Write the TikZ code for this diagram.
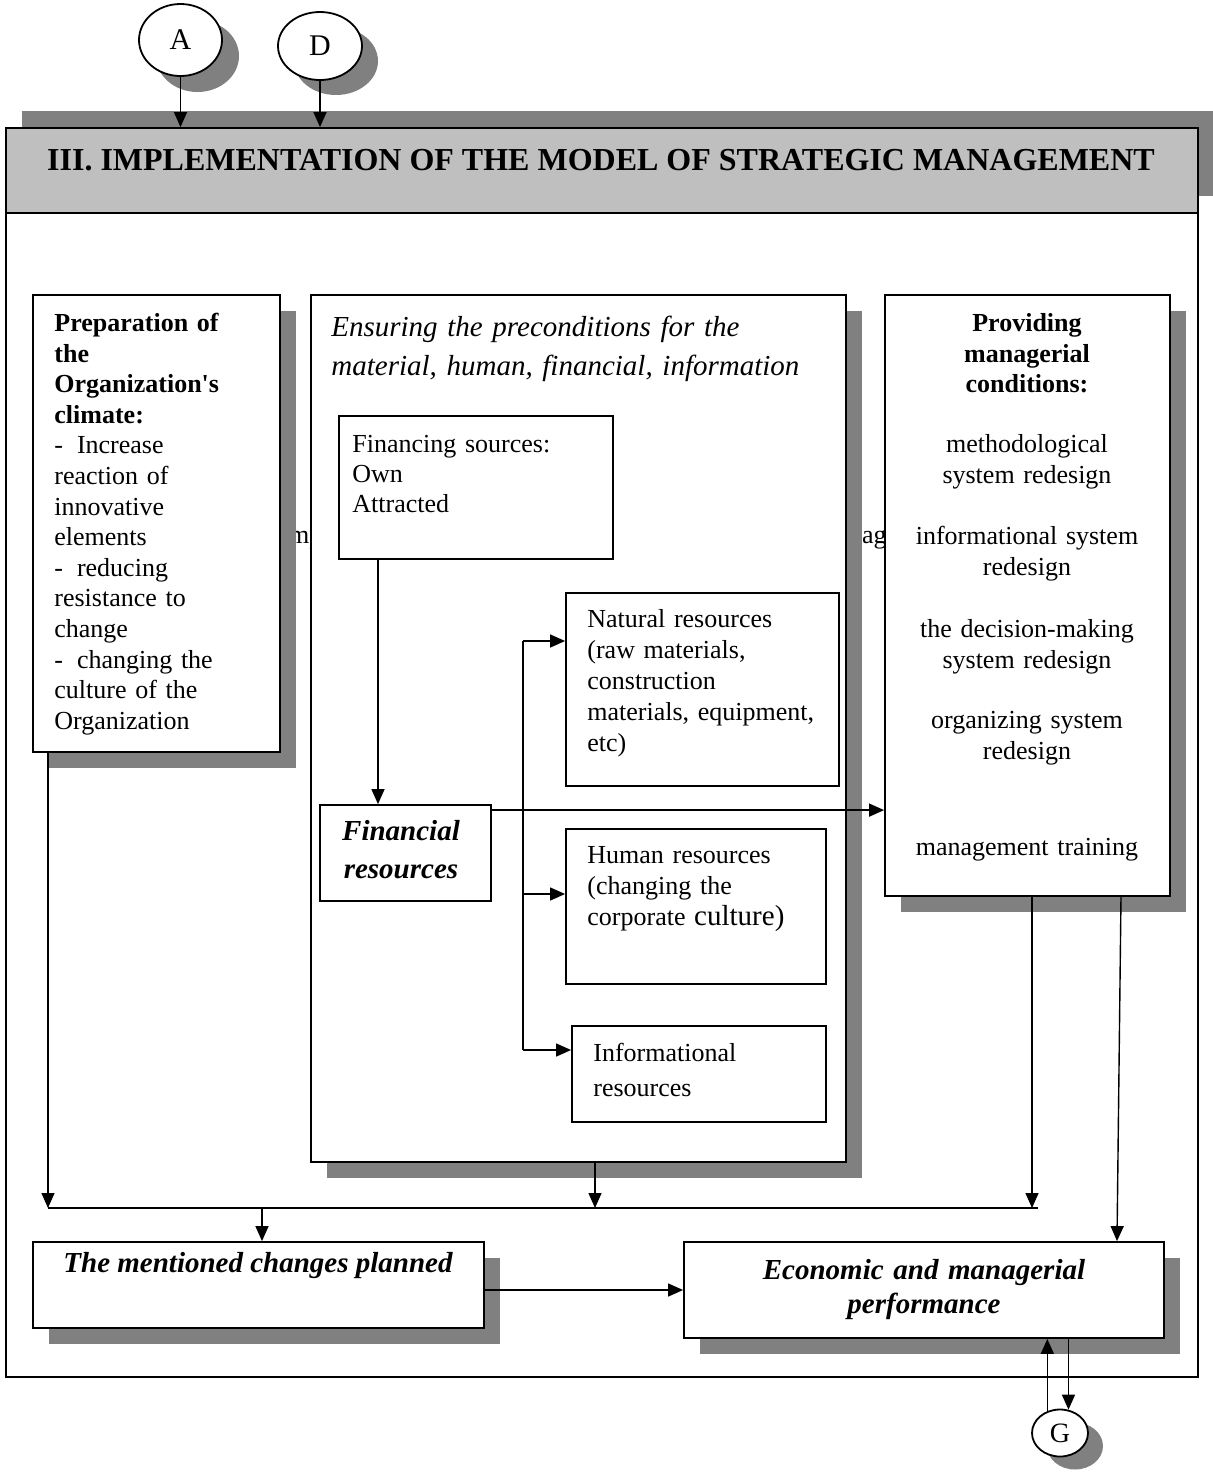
\documentclass[tikz,border=0pt]{standalone}
\usepackage{fontspec}
\setmainfont{Liberation Serif}
\usetikzlibrary{shapes.geometric,shadows,arrows.meta,fit}
\definecolor{shadowgray}{gray}{0.5}
\definecolor{headgray}{gray}{0.75}
% strut that fixes the height of the first line of a text block
\newcommand\firstln{\rule{0pt}{12pt}}

\tikzset{
  boxframe/.style={draw, line width=0.9pt, fill=white, inner sep=0pt},
  boxshadow/.style={drop shadow={shadow xshift=8pt, shadow yshift=-8pt, fill=shadowgray, opacity=1}},
  conn/.style={line width=0.7pt},
  arr/.style={conn, -{Triangle[length=7.5pt,width=6.5pt]}},
  txt/.style={inner sep=0pt, font=\fontsize{13}{15.3}\selectfont},
  blockl/.style={txt, anchor=north west, text width=300pt, align=left},
  blockc/.style={txt, anchor=north, text width=220pt, align=center},
  emph/.style={inner sep=0pt, font=\fontsize{14.5}{19}\selectfont\bfseries\itshape},
  letter/.style={ellipse, draw, line width=0.9pt, fill=white, inner sep=0pt}
}

\begin{document}
\begin{tikzpicture}[x=0.5pt, y=-0.5pt]
\useasboundingbox (0,0) rectangle (1212,1474);

% outer frame and title bar
\node[draw, line width=0.9pt, inner sep=0pt, fit={(6,128) (1198,1377)}] (frame) {};
\node[boxframe, fill=headgray,
      drop shadow={shadow xshift=8pt, shadow yshift=8.5pt, fill=shadowgray, opacity=1},
      fit={(6,128) (1198,213)}] (head) {};
\node[inner sep=0pt, anchor=base, font=\fontsize{16}{19}\selectfont\bfseries] (title) at (601,170)
  {III. IMPLEMENTATION OF THE MODEL OF STRATEGIC MANAGEMENT};

% parts of a line of text lying behind the three column boxes
\node[txt, anchor=base west] (behindL) at (280,543) {Imp};
\node[txt, anchor=base west] (behindR) at (817,543) {manag};

% entry points
\node[letter, minimum width=41.5pt, minimum height=36pt,
      drop shadow={shadow xshift=8.5pt, shadow yshift=-8pt, fill=shadowgray, opacity=1},
      font=\fontsize{15}{18}\selectfont] (A) at (180.5,40) {A};
\node[letter, minimum width=42pt, minimum height=34pt,
      drop shadow={shadow xshift=8pt, shadow yshift=-7.5pt, fill=shadowgray, opacity=1},
      font=\fontsize{15}{18}\selectfont] (D) at (320,46) {D};

% three columns
\node[boxframe, boxshadow, fit={(33,295) (280,752)}] (prep) {};
\node[boxframe, boxshadow, fit={(311,295) (846,1162)}] (mid) {};
\node[boxframe, boxshadow, fit={(885,295) (1170,896)}] (prov) {};

% boxes inside the middle column
\node[boxframe, fit={(339,416) (613,559)}] (fs) {};
\node[boxframe, fit={(566,593) (839,786)}] (nat) {};
\node[boxframe, fit={(320,805) (491,901)}] (fin) {};
\node[boxframe, fit={(566,829) (826,984)}] (hum) {};
\node[boxframe, fit={(572,1026) (826,1122)}] (info) {};

% result boxes
\node[boxframe, boxshadow, fit={(33,1242) (484,1328)}] (ment) {};
\node[boxframe, boxshadow, fit={(684,1242) (1164,1338)}] (econ) {};

% exit point
\node[letter, minimum width=28pt, minimum height=23.5pt,
      drop shadow={shadow xshift=7.5pt, shadow yshift=-6.5pt, fill=shadowgray, opacity=1},
      font=\fontsize{14}{17}\selectfont] (G) at (1060,1433) {G};

% texts
\node[blockl] (preptext) at (54,307) {\firstln\bfseries Preparation of\\the\\Organization\textquotesingle s\\climate:\\
  \mdseries -\hspace{7pt}Increase\\reaction of\\innovative\\elements\\
  -\hspace{7pt}reducing\\resistance to\\change\\
  -\hspace{7pt}changing the\\culture of the\\Organization};

\node[blockl, font=\fontsize{14.5}{19.5}\selectfont\itshape] (midtext) at (331,312)
  {\firstln Ensuring the preconditions for the\\material, human, financial, information};

\node[blockl, font=\fontsize{13}{15}\selectfont] (fstext) at (352,428)
  {\firstln Financing sources:\\Own\\Attracted};

\node[blockl, font=\fontsize{13}{15.5}\selectfont] (nattext) at (587,603)
  {\firstln Natural resources\\(raw materials,\\construction\\materials, equipment,\\etc)};

\node[blockl, font=\fontsize{13}{15.6}\selectfont] (humtext) at (587,839)
  {\firstln Human resources\\(changing the\\corporate {\fontsize{14.5}{15.6}\selectfont culture)}};

\node[blockl, font=\fontsize{13}{17.5}\selectfont] (infotext) at (593,1037)
  {\firstln Informational\\resources};

\node[blockc, font=\fontsize{13}{15.3}\selectfont\bfseries] (provtitle) at (1027,307)
  {\firstln Providing\\managerial\\conditions:};
\node[blockc] (prov1) at (1027,428) {\firstln methodological\\system redesign};
\node[blockc] (prov2) at (1027,520) {\firstln informational system\\redesign};
\node[blockc] (prov3) at (1027,613) {\firstln the decision-making\\system redesign};
\node[blockc] (prov4) at (1027,704) {\firstln organizing system\\redesign};
\node[blockc] (prov5) at (1027,831) {\firstln management training};

\node[emph, anchor=north, text width=150pt, align=center] (fintext) at (401,816)
  {\firstln Financial\\resources};
\node[emph, anchor=base] (menttext) at (258,1272) {The mentioned changes planned};
\node[emph, anchor=north, text width=220pt, align=center, font=\fontsize{14.5}{17}\selectfont\bfseries\itshape] (econtext) at (924,1255)
  {\firstln Economic and managerial\\performance};

% connectors from the entry points
\draw[arr] (A.south) -- (A.south |- head.north);
\draw[arr] (D.south) -- (D.south |- head.north);

% financing flow
\coordinate (xfin) at (378,0);
\draw[arr] (fs.south -| xfin) -- (fin.north -| xfin);
\coordinate (f1) at ([yshift=-3pt]fin.north east);
\draw[arr] (f1) -- (f1 -| prov.west);

% distribution to the resources
\coordinate (dtop) at (523,641);
\coordinate (dhum) at (523,894);
\coordinate (dinf) at (523,1050);
\draw[conn] (dtop) -- (dinf);
\draw[arr] (dtop) -- (dtop -| nat.west);
\draw[arr] (dhum) -- (dhum -| hum.west);
\draw[arr] (dinf) -- (dinf -| info.west);

% collecting line
\coordinate (busL) at (48,1208);
\coordinate (busM) at (595,1208);
\coordinate (busR) at (1032,1208);
\coordinate (busEnd) at (1038,1208);
\coordinate (busDrop) at (262,1208);
\draw[conn] (busL) -- (busEnd);
\draw[arr] (prep.south -| busL) -- (busL);
\draw[arr] (mid.south -| busM) -- (busM);
\draw[arr] (prov.south -| busR) -- (busR);
\draw[arr] (busDrop) -- (busDrop |- ment.north);

% towards the performance box
\coordinate (sl) at (1121,0);
\draw[arr] (prov.south -| sl) -- ([xshift=-2pt]econ.north -| sl);
\coordinate (ylev) at (0,1290);
\draw[arr] (ment.east |- ylev) -- (econ.west |- ylev);

% exchange with G
\draw[arr] (G.120) -- (G.120 |- econ.south);
\draw[arr] (G.70 |- econ.south) -- (G.70);
\end{tikzpicture}
\end{document}
